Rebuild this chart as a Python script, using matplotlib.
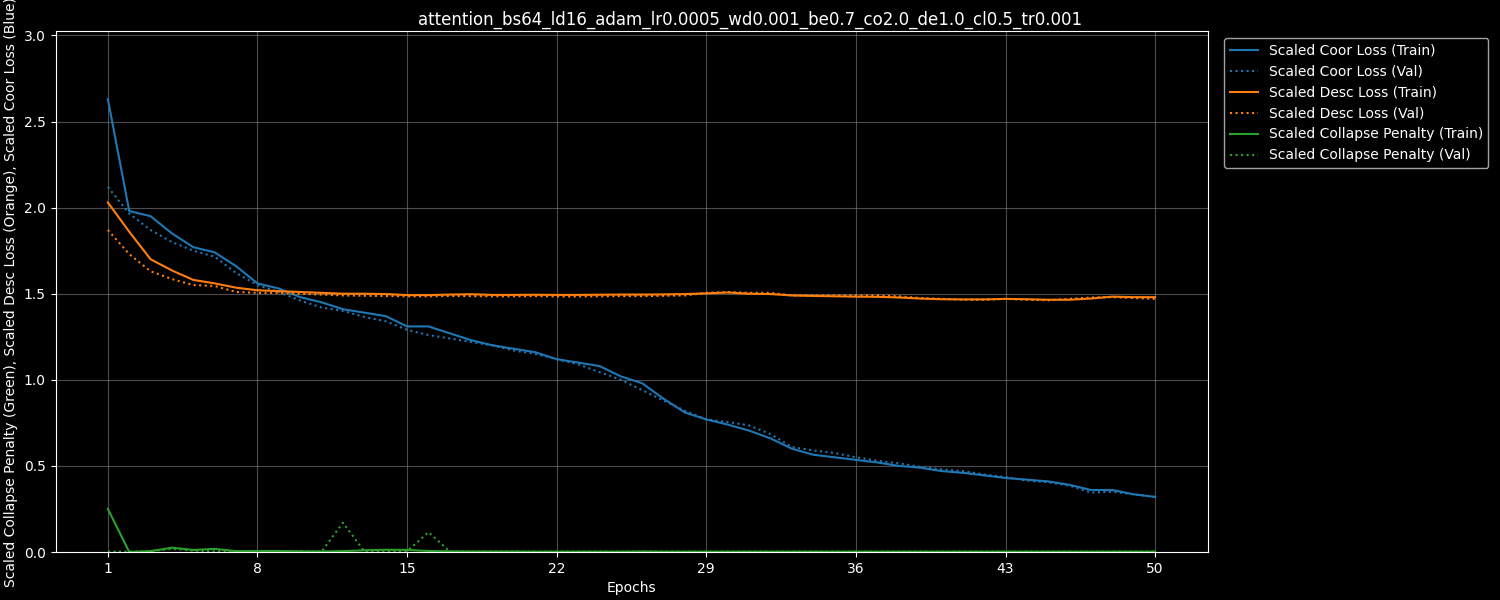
import matplotlib
matplotlib.use("Agg")
import matplotlib.pyplot as plt
import numpy as np

plt.style.use("dark_background")

epochs = list(range(1, 51))

coor_train = [2.63, 1.98, 1.95, 1.85, 1.77, 1.74, 1.66, 1.56, 1.53, 1.48,
              1.45, 1.41, 1.39, 1.37, 1.31, 1.31, 1.27, 1.23, 1.20, 1.18,
              1.16, 1.12, 1.10, 1.08, 1.02, 0.98, 0.89, 0.81, 0.77, 0.74,
              0.705, 0.66, 0.60, 0.565, 0.55, 0.535, 0.52, 0.50, 0.49, 0.47,
              0.46, 0.445, 0.43, 0.42, 0.41, 0.39, 0.36, 0.36, 0.335, 0.32]
coor_val = [2.12, 1.965, 1.87, 1.80, 1.75, 1.715, 1.62, 1.55, 1.51, 1.46,
            1.42, 1.40, 1.365, 1.34, 1.29, 1.26, 1.24, 1.22, 1.20, 1.17,
            1.15, 1.12, 1.09, 1.045, 1.00, 0.94, 0.88, 0.82, 0.77, 0.755,
            0.735, 0.685, 0.61, 0.59, 0.575, 0.55, 0.53, 0.515, 0.495, 0.48,
            0.47, 0.45, 0.435, 0.415, 0.405, 0.385, 0.345, 0.35, 0.335, 0.32]
desc_train = [2.03, 1.86, 1.70, 1.635, 1.58, 1.56, 1.535, 1.52, 1.515, 1.51,
              1.505, 1.50, 1.50, 1.498, 1.492, 1.492, 1.495, 1.497, 1.493, 1.493,
              1.494, 1.493, 1.493, 1.494, 1.495, 1.495, 1.496, 1.498, 1.502, 1.507,
              1.50, 1.498, 1.49, 1.487, 1.485, 1.483, 1.482, 1.478, 1.472, 1.468,
              1.467, 1.467, 1.47, 1.468, 1.465, 1.465, 1.472, 1.483, 1.48, 1.48]
desc_val = [1.87, 1.73, 1.63, 1.585, 1.55, 1.545, 1.51, 1.505, 1.505, 1.50,
            1.495, 1.49, 1.488, 1.487, 1.485, 1.485, 1.487, 1.486, 1.485, 1.485,
            1.486, 1.484, 1.484, 1.485, 1.486, 1.486, 1.488, 1.49, 1.505, 1.51,
            1.505, 1.505, 1.49, 1.49, 1.49, 1.49, 1.49, 1.485, 1.475, 1.47,
            1.465, 1.465, 1.47, 1.465, 1.462, 1.47, 1.478, 1.48, 1.475, 1.47]
coll_train = [0.25, 0.0, 0.005, 0.025, 0.012, 0.018, 0.005, 0.006, 0.006, 0.004,
              0.003, 0.005, 0.01, 0.013, 0.012, 0.006, 0.004, 0.003, 0.003, 0.003,
              0.002, 0.002, 0.002, 0.002, 0.002, 0.003, 0.002, 0.002, 0.002, 0.002,
              0.002, 0.002, 0.002, 0.002, 0.002, 0.002, 0.002, 0.002, 0.002, 0.002,
              0.002, 0.002, 0.002, 0.002, 0.002, 0.002, 0.002, 0.002, 0.002, 0.002]
coll_val = [0.002, 0.002, 0.005, 0.018, 0.008, 0.004, 0.003, 0.003, 0.003, 0.003,
            0.003, 0.17, 0.003, 0.003, 0.004, 0.115, 0.003, 0.002, 0.002, 0.002,
            0.002, 0.002, 0.002, 0.002, 0.002, 0.002, 0.002, 0.002, 0.002, 0.002,
            0.002, 0.002, 0.002, 0.002, 0.002, 0.002, 0.002, 0.002, 0.002, 0.002,
            0.002, 0.002, 0.002, 0.002, 0.002, 0.002, 0.002, 0.002, 0.002, 0.002]
xticks = [1, 8, 15, 22, 29, 36, 43, 50]

title = "attention_bs64_ld16_adam_lr0.0005_wd0.001_be0.7_co2.0_de1.0_cl0.5_tr0.001"

fig, ax = plt.subplots(figsize=(15, 6), dpi=100)
ax.plot(epochs, coor_train, color="#1f77b4", linestyle="-", label="Scaled Coor Loss (Train)")
ax.plot(epochs, coor_val, color="#1f77b4", linestyle=":", label="Scaled Coor Loss (Val)")
ax.plot(epochs, desc_train, color="#ff7f0e", linestyle="-", label="Scaled Desc Loss (Train)")
ax.plot(epochs, desc_val, color="#ff7f0e", linestyle=":", label="Scaled Desc Loss (Val)")
ax.plot(epochs, coll_train, color="#2ca02c", linestyle="-", label="Scaled Collapse Penalty (Train)")
ax.plot(epochs, coll_val, color="#2ca02c", linestyle=":", label="Scaled Collapse Penalty (Val)")

fig.suptitle(title, y=0.982)
ax.set_xlabel("Epochs")
ax.set_ylabel("Scaled Collapse Penalty (Green), Scaled Desc Loss (Orange), Scaled Coor Loss (Blue)")
ax.set_xticks(xticks)
ax.set_ylim(0, max(coor_train) * 1.15)
ax.grid(True, color="gray", alpha=0.6, linewidth=0.8)
ax.legend(loc="upper left", bbox_to_anchor=(1.0085, 1))
fig.subplots_adjust(left=0.037, right=0.805, top=0.948, bottom=0.08)
fig.savefig("out.png")
